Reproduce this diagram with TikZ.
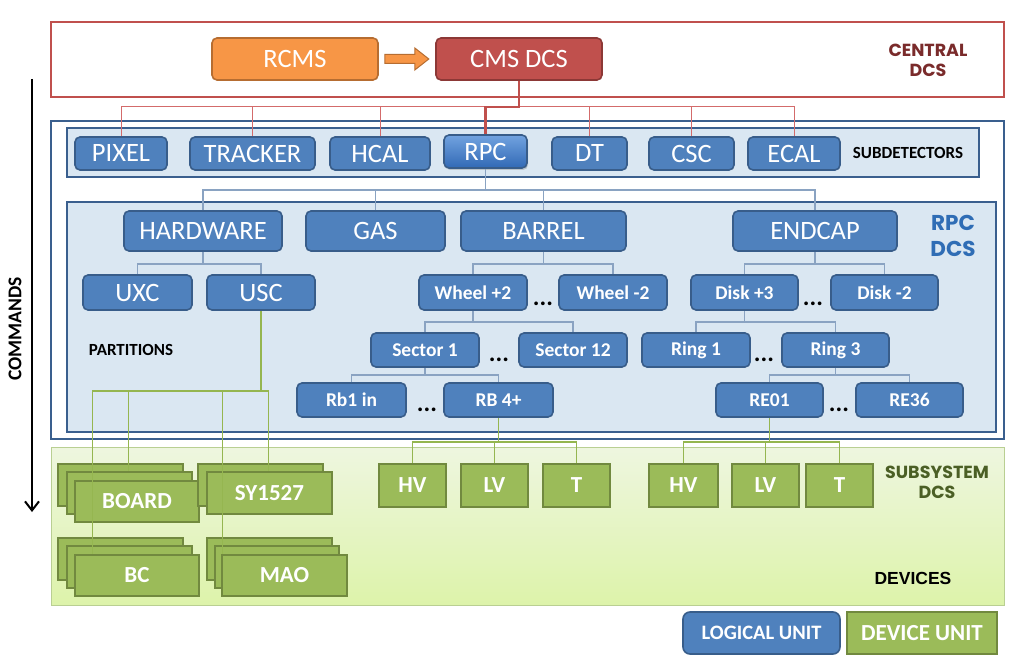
\documentclass[tikz,border=0pt]{standalone}
\usepackage{fontspec}
\setmainfont{Carlito}
\newfontfamily\comicfont{Poppins}
\newfontfamily\arialfont{Liberation Sans}
\usetikzlibrary{calc,arrows.meta,shadows}
\definecolor{luFill}{HTML}{4F81BD}
\definecolor{luLine}{HTML}{385D8A}
\definecolor{duFill}{HTML}{9BBB59}
\definecolor{duLine}{HTML}{71893F}
\definecolor{orFill}{HTML}{F79646}
\definecolor{orLine}{HTML}{B66D31}
\definecolor{rdFill}{HTML}{C0504D}
\definecolor{rdLine}{HTML}{8C3836}
\definecolor{paleBlue}{HTML}{DAE7F2}
\definecolor{frameBlue}{HTML}{3A5F8E}
\definecolor{connBlue}{HTML}{8AA3C2}
\definecolor{connRed}{HTML}{D36B6B}
\definecolor{connGreen}{HTML}{95B650}
\definecolor{subTop}{HTML}{EEF6DF}
\definecolor{subBot}{HTML}{DDF3AA}
\definecolor{subLine}{HTML}{B9CF92}
\definecolor{cdcs}{HTML}{7A2B2B}
\definecolor{rdcs}{HTML}{2F6DB5}
\definecolor{sdcs}{HTML}{4B5F25}
\definecolor{rpcTop}{HTML}{72A3E0}
\definecolor{rpcBot}{HTML}{3169B5}
\newcommand\UnitBox[7][]{\node[#1, minimum width={(#4-#3)*1pt}, minimum height={(#6-#5)*1pt}] (#2) at ({(#3+#4)/2},{(#5+#6)/2}) {#7};}
\begin{document}
\begin{tikzpicture}[x=1pt,y=-1pt,
  lu/.style={rounded corners=5pt, fill=luFill, draw=luLine, line width=1.6pt, text=white, inner sep=0pt, font=\fontsize{26.5}{26.5}\selectfont},
  lub/.style={lu, font=\bfseries\fontsize{19.5}{19.5}\selectfont},
  du/.style={fill=duFill, draw=duLine, line width=1.8pt, text=white, inner sep=0pt, font=\bfseries\fontsize{23}{23}\selectfont},
  dots/.style={anchor=base, inner sep=0pt, font=\bfseries\fontsize{25}{25}\selectfont},
  lbl/.style={inner sep=0pt, font=\bfseries\fontsize{17}{17}\selectfont},
  comic/.style={inner sep=0pt, align=center, font=\comicfont\bfseries\fontsize{17.5}{20}\selectfont},
  bl/.style={draw=connBlue, line width=1.1pt},
  rthin/.style={draw=connRed, line width=1pt},
  rthick/.style={draw=rdFill, line width=2.8pt},
  gl/.style={draw=connGreen, line width=1.2pt},
  frame/.style={draw=frameBlue, line width=2.8pt},
  ]
\useasboundingbox (0,0) rectangle (1021,668);
% ---------- regions
\draw[draw=rdFill, line width=2pt, fill=white] (51,22) rectangle (1004,97);
\draw[frame, fill=white] (51,121) rectangle (1004,439);
\draw[frame, line width=2.4pt, fill=paleBlue] (67,128) rectangle (979,177);
\draw[frame, line width=2.4pt, fill=paleBlue] (67,202) rectangle (996,432);
\shade[top color=subTop, bottom color=subBot, draw=subLine, line width=1pt] (51,448) rectangle (1004,605);
% ---------- central
\UnitBox[lu, fill=orFill, draw=orLine]{rcms}{212}{378}{38}{80}{RCMS}
\UnitBox[lu, fill=rdFill, draw=rdLine]{cmsdcs}{436}{602}{38}{80}{CMS DCS}
\draw[fill=orFill, draw=orLine, line width=1pt]
  ($(rcms.east)+(6,-4.5)$) -- ($(rcms.east)+(36,-4.5)$) -- ($(rcms.east)+(36,-11)$)
  -- ($(rcms.east)+(50,0)$) -- ($(rcms.east)+(36,11)$) -- ($(rcms.east)+(36,4.5)$)
  -- ($(rcms.east)+(6,4.5)$) -- cycle;
\node[comic, text=cdcs] (centraldcs) at (928,60) {CENTRAL\\DCS};
% ---------- subdetectors
\UnitBox[lu]{pixel}{75}{167}{137}{170}{PIXEL}
\UnitBox[lu]{tracker}{190}{315}{137}{170}{TRACKER}
\UnitBox[lu]{hcal}{330}{430}{137}{170}{HCAL}
\UnitBox[lu, top color=rpcTop, bottom color=rpcBot, draw=luLine,
  drop shadow={opacity=0.35, shadow xshift=1pt, shadow yshift=-2pt}]{rpc}{444}{527}{135}{168}{RPC}
\UnitBox[lu]{dt}{552}{627}{137}{170}{DT}
\UnitBox[lu]{csc}{649}{734}{137}{170}{CSC}
\UnitBox[lu]{ecal}{748}{840}{137}{170}{ECAL}
\node[lbl] (subdet) at (908,153) {SUBDETECTORS};
% ---------- RPC DCS
\node[comic, text=rdcs, font=\comicfont\bfseries\fontsize{21.5}{26}\selectfont] (rpcdcs) at (953,236) {RPC\\DCS};
\UnitBox[lu]{hardware}{124}{282}{211}{251}{HARDWARE}
\UnitBox[lu]{gas}{306}{445}{211}{251}{GAS}
\UnitBox[lu]{barrel}{461}{626}{211}{251}{BARREL}
\UnitBox[lu]{endcap}{733}{897}{211}{251}{ENDCAP}
\UnitBox[lu]{uxc}{83}{192}{275}{310}{UXC}
\UnitBox[lu]{usc}{207}{315}{275}{310}{USC}
\UnitBox[lub]{wheelp}{419}{527}{275}{310}{Wheel +2}
\UnitBox[lub]{wheelm}{559}{667}{275}{310}{Wheel -2}
\UnitBox[lub]{diskp}{691}{798}{275}{310}{Disk +3}
\UnitBox[lub]{diskm}{831}{938}{275}{310}{Disk -2}
\UnitBox[lub]{sectora}{371}{479}{333}{367}{Sector 1}
\UnitBox[lub]{sectorb}{519}{627}{333}{367}{Sector 12}
\UnitBox[lub]{ringa}{642}{750}{333}{367}{Ring 1}
\UnitBox[lub]{ringb}{782}{889}{333}{367}{Ring 3}
\UnitBox[lub]{rba}{297}{406}{383}{417}{Rb1 in}
\UnitBox[lub]{rbb}{444}{553}{383}{417}{RB 4+}
\UnitBox[lub]{rea}{716}{823}{383}{417}{RE01}
\UnitBox[lub]{reb}{856}{963}{383}{417}{RE36}
\node[dots] (dw) at (543,306) {...};
\node[dots] (dd) at (813,306) {...};
\node[dots] (ds) at (499,362) {...};
\node[dots] (dr) at (764,362) {...};
\node[dots] (db) at (427,412) {...};
\node[dots] (de) at (839,412) {...};
\node[lbl] (partitions) at (131,350) {PARTITIONS};
% ---------- devices
\UnitBox[du]{boarda}{58}{183}{464}{506}{}
\UnitBox[du]{boardb}{67}{192}{472}{514}{}
\UnitBox[du]{boardc}{75}{199}{481}{522}{BOARD}
\UnitBox[du]{sya}{198}{323}{464}{506}{}
\UnitBox[du]{syb}{207}{332}{472}{514}{SY1527}
\UnitBox[du]{bca}{58}{183}{538}{580}{}
\UnitBox[du]{bcb}{67}{192}{546}{588}{}
\UnitBox[du]{bcc}{75}{199}{555}{596}{BC}
\UnitBox[du]{maoa}{207}{332}{538}{580}{}
\UnitBox[du]{maob}{215}{339}{546}{588}{}
\UnitBox[du]{maoc}{222}{347}{555}{596}{MAO}
\UnitBox[du]{hva}{379}{446}{464}{507}{HV}
\UnitBox[du]{lva}{461}{528}{464}{507}{LV}
\UnitBox[du]{ta}{543}{610}{464}{507}{T}
\UnitBox[du]{hvb}{649}{718}{464}{507}{HV}
\UnitBox[du]{lvb}{732}{799}{464}{507}{LV}
\UnitBox[du]{tb}{806}{873}{464}{507}{T}
\node[comic, text=sdcs] (subsysdcs) at (937,482) {SUBSYSTEM\\DCS};
\node[inner sep=0pt, font=\arialfont\bfseries\fontsize{17.5}{17.5}\selectfont] (devices) at (913,578) {DEVICES};
% ---------- legend
\UnitBox[lu, rounded corners=7pt, font=\bfseries\fontsize{20.5}{20.5}\selectfont]{legl}{683}{840}{612}{654}{LOGICAL UNIT}
\UnitBox[du, font=\bfseries\fontsize{23}{23}\selectfont]{legd}{847}{997}{612}{654}{DEVICE UNIT}
% ---------- commands
\coordinate (cmdtop) at (32,79);
\coordinate (cmdbot) at (32,512);
\draw[line width=2pt, -{Straight Barb[length=9pt,width=14pt,line width=2pt]}] (cmdtop) -- (cmdbot);
\node[rotate=90, inner sep=0pt, font=\bfseries\fontsize{19.5}{19.5}\selectfont] (commands) at (15,329) {COMMANDS};
% ---------- connectors: central
\coordinate (rbus) at (0,107);
\draw[rthin] (pixel.north) |- (ecal.north |- rbus) -- (ecal.north);
\draw[rthin] (tracker.north) -- (tracker.north |- rbus);
\draw[rthin] (hcal.north) -- (hcal.north |- rbus);
\draw[rthin] (dt.north) -- (dt.north |- rbus);
\draw[rthin] (csc.north) -- (csc.north |- rbus);
\draw[rthick] (cmsdcs.south) |- (rpc.north |- rbus) -- (rpc.north);
% ---------- connectors: RPC tree
\coordinate (ba) at (0,190);
\coordinate (bb) at (0,264);
\coordinate (bc) at (0,322);
\coordinate (bd) at (0,375);
\draw[bl] (rpc.south) -- (rpc.south |- ba);
\draw[bl] (hardware.north) |- (endcap.north |- ba) -- (endcap.north);
\draw[bl] (gas.north) -- (gas.north |- ba);
\draw[bl] (barrel.north) -- (barrel.north |- ba);
\draw[bl] (hardware.south) -- (hardware.south |- bb);
\draw[bl] (uxc.north) |- (usc.north |- bb) -- (usc.north);
\draw[bl] (barrel.south) -- (barrel.south |- bb);
\draw[bl] (wheelp.north) |- (wheelm.north |- bb) -- (wheelm.north);
\draw[bl] (endcap.south) -- (endcap.south |- bb);
\draw[bl] (diskp.north) |- (diskm.north |- bb) -- (diskm.north);
\draw[bl] (wheelp.south) -- (wheelp.south |- bc);
\draw[bl] (sectora.north) |- (sectorb.north |- bc) -- (sectorb.north);
\draw[bl] (diskp.south) -- (diskp.south |- bc);
\draw[bl] (ringa.north) |- (ringb.north |- bc) -- (ringb.north);
\draw[bl] (sectora.south) -- (sectora.south |- bd);
\draw[bl] (rba.north) |- (rbb.north |- bd) -- (rbb.north);
\draw[bl] (ringb.south) -- (ringb.south |- bd);
\draw[bl] (rea.north) |- (reb.north |- bd) -- (reb.north);
% ---------- connectors: devices
\coordinate (ga) at (0,391);
\coordinate (gb) at (0,442);
\draw[gl] (usc.south) -- (usc.south |- ga);
\draw[gl] ([xshift=18pt]bcc.north west) |- ([xshift=62pt]syb.north west |- ga) -- ([xshift=62pt]syb.north west);
\draw[gl] ([xshift=62pt]boardb.north west) -- ([xshift=62pt]boardb.north west |- ga);
\draw[gl] ([xshift=1pt]maoc.north west) -- ([xshift=1pt]maoc.north west |- ga);
\draw[gl] (rbb.south) -- (rbb.south |- gb);
\draw[gl] (hva.north) |- (ta.north |- gb) -- (ta.north);
\draw[gl] (lva.north) -- (lva.north |- gb);
\draw[gl] (rea.south) -- (rea.south |- gb);
\draw[gl] (hvb.north) |- (tb.north |- gb) -- (tb.north);
\draw[gl] (lvb.north) -- (lvb.north |- gb);
\end{tikzpicture}
\end{document}
